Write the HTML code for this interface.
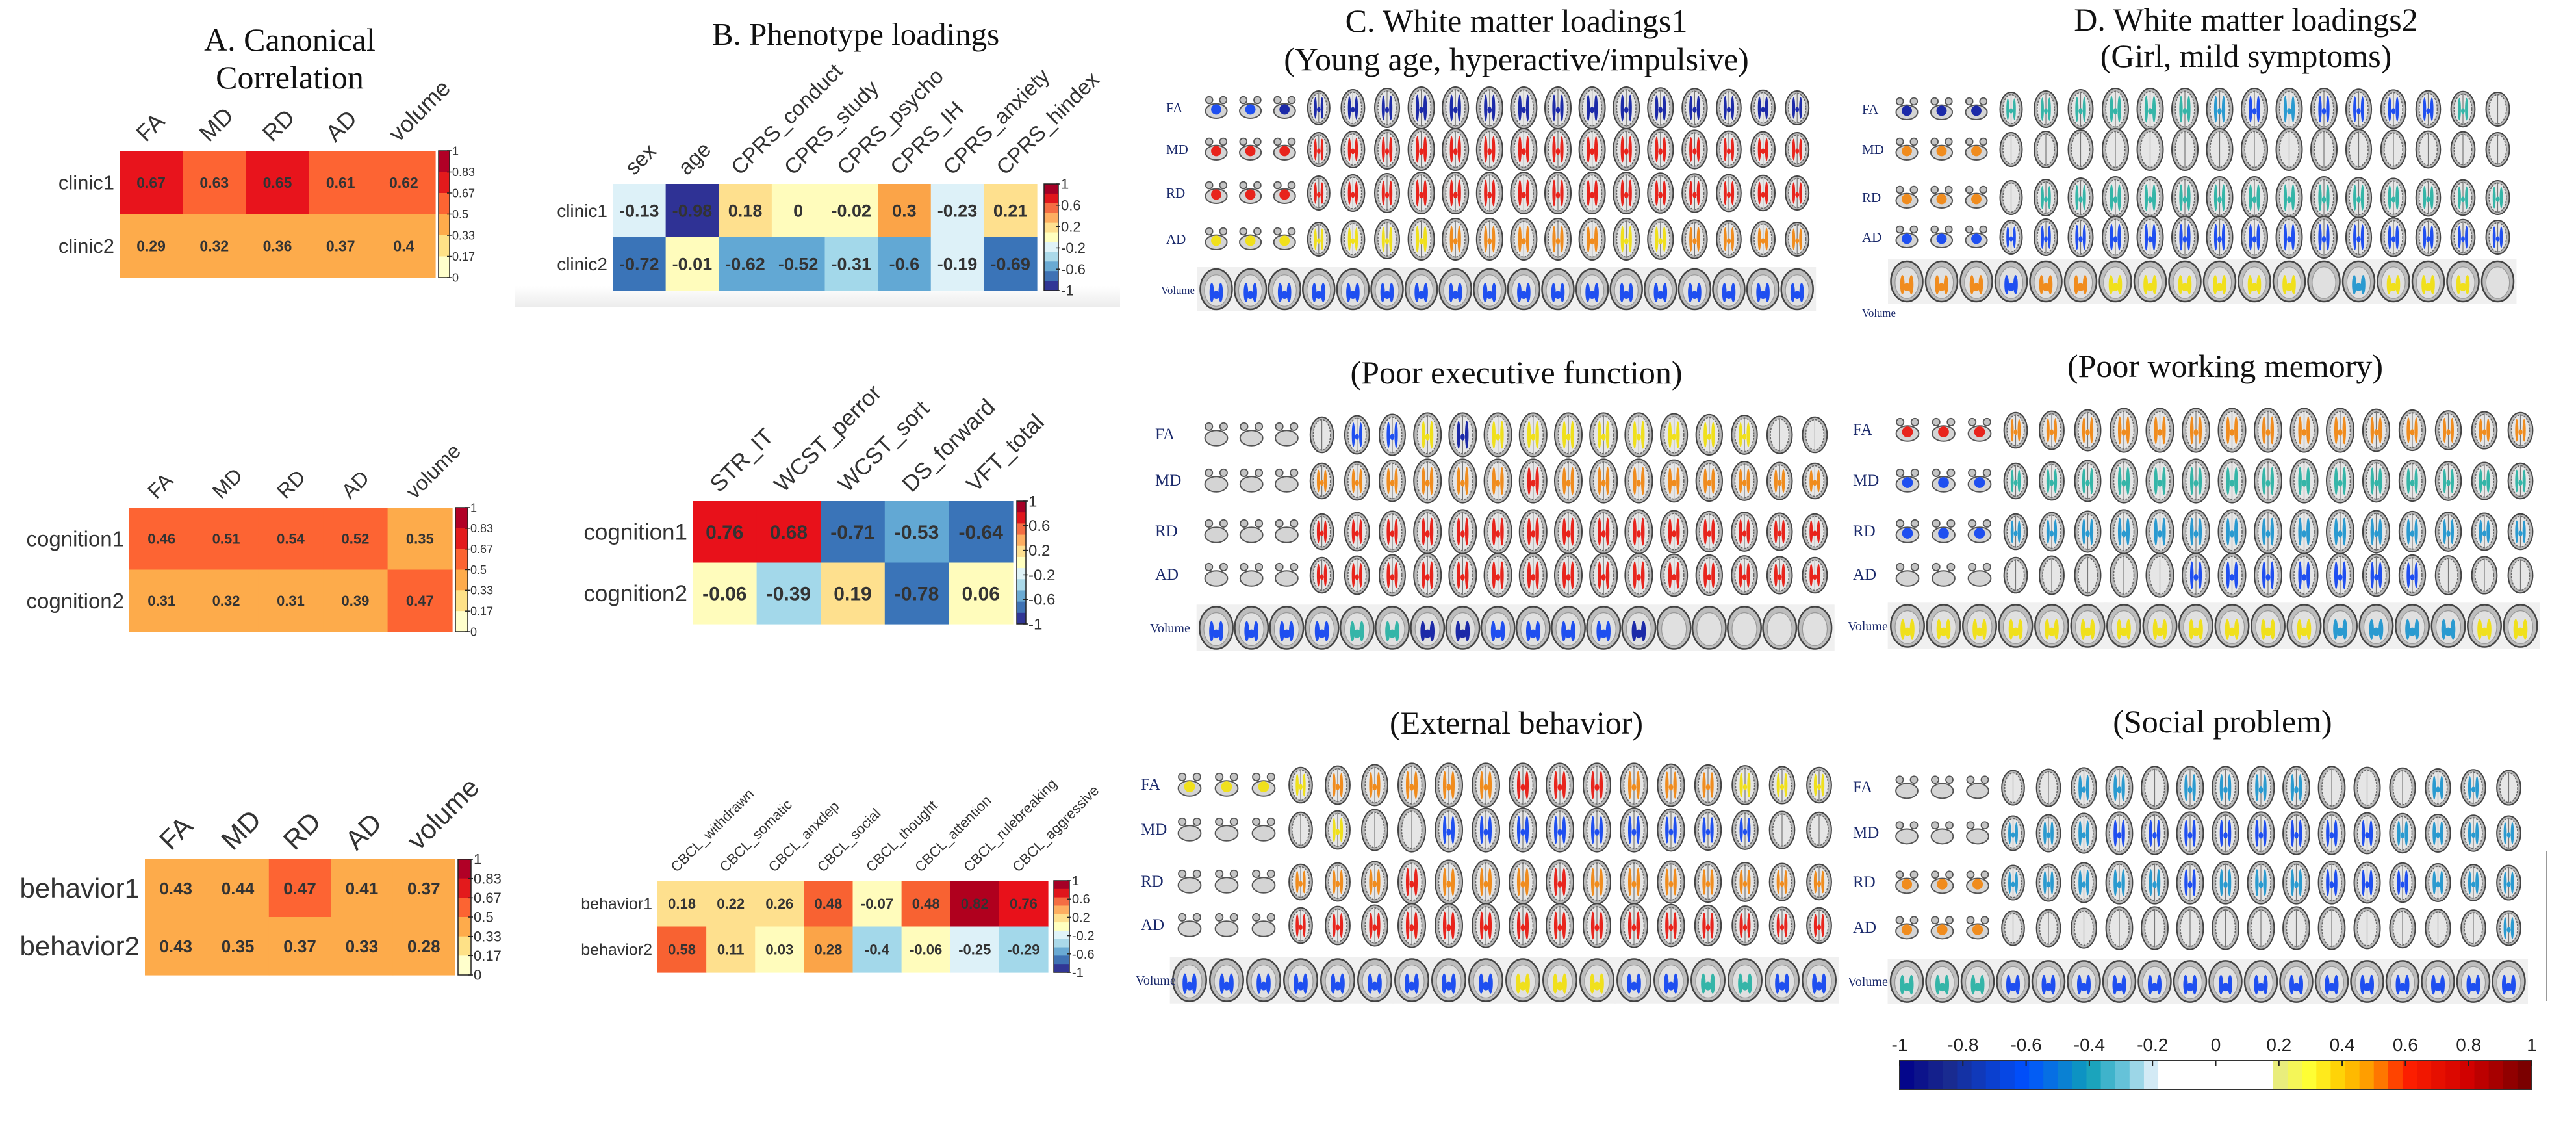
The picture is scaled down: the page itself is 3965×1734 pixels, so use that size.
<!DOCTYPE html>
<html><head><meta charset="utf-8"><style>
html,body{margin:0;padding:0;background:#fff;}
svg{display:block;}
</style></head><body>
<svg id="fig" width="3965" height="1734" viewBox="0 0 3965 1734" xmlns="http://www.w3.org/2000/svg">
<defs><linearGradient id="shadowGrad" x1="0" y1="0" x2="0" y2="1"><stop offset="0" stop-color="#ffffff"/><stop offset="1" stop-color="#ececec"/></linearGradient></defs>
<rect x="0" y="0" width="3965" height="1734" fill="#ffffff"/>
<rect x="792" y="440" width="932" height="32" fill="url(#shadowGrad)"/>
<g font-family="'Liberation Serif', serif" fill="#111" text-anchor="middle">
<text x="446" y="78" font-size="50">A. Canonical</text>
<text x="446" y="136" font-size="50">Correlation</text>
<text x="1317" y="69" font-size="49">B. Phenotype loadings</text>
<text x="2334" y="49" font-size="50">C. White matter loadings1</text>
<text x="2334" y="108" font-size="50">(Young age, hyperactive/impulsive)</text>
<text x="3457" y="47" font-size="50">D. White matter loadings2</text>
<text x="3457" y="103" font-size="50">(Girl, mild symptoms)</text>
<text x="2334" y="590" font-size="50">(Poor executive function)</text>
<text x="3425" y="580" font-size="50">(Poor working memory)</text>
<text x="2334" y="1129" font-size="50">(External behavior)</text>
<text x="3421" y="1127" font-size="50">(Social problem)</text>
</g>
<line x1="3920" y1="1310" x2="3920" y2="1540" stroke="#999" stroke-width="2"/>
<g id="charts"></g>
<g id="brains"></g>
<g id="wmcb"></g>
</svg>
<script>
const NS='http://www.w3.org/2000/svg';
function mk(tag,attrs,parent){const e=document.createElementNS(NS,tag);for(const k in attrs)e.setAttribute(k,attrs[k]);parent.appendChild(e);return e;}

// ---------- heatmap data ----------
const aCols=['FA','MD','RD','AD','volume'];
const clinicRows=['clinic1','clinic2'];
const aClinicVals=[[0.67,0.63,0.65,0.61,0.62],[0.29,0.32,0.36,0.37,0.4]];
const cognitionRows=['cognition1','cognition2'];
const aCognitionVals=[[0.46,0.51,0.54,0.52,0.35],[0.31,0.32,0.31,0.39,0.47]];
const behaviorRows=['behavior1','behavior2'];
const aBehaviorVals=[[0.43,0.44,0.47,0.41,0.37],[0.43,0.35,0.37,0.33,0.28]];
const bClinicCols=['sex','age','CPRS_conduct','CPRS_study','CPRS_psycho','CPRS_IH','CPRS_anxiety','CPRS_hindex'];
const bClinicVals=[[-0.13,-0.98,0.18,0,-0.02,0.3,-0.23,0.21],[-0.72,-0.01,-0.62,-0.52,-0.31,-0.6,-0.19,-0.69]];
const bCognitionCols=['STR_IT','WCST_perror','WCST_sort','DS_forward','VFT_total'];
const bCognitionVals=[[0.76,0.68,-0.71,-0.53,-0.64],[-0.06,-0.39,0.19,-0.78,0.06]];
const bBehaviorCols=['CBCL_withdrawn','CBCL_somatic','CBCL_anxdep','CBCL_social','CBCL_thought','CBCL_attention','CBCL_rulebreaking','CBCL_aggressive'];
const bBehaviorVals=[[0.18,0.22,0.26,0.48,-0.07,0.48,0.82,0.76],[0.58,0.11,0.03,0.28,-0.4,-0.06,-0.25,-0.29]];
const aTicks=['1','0.83','0.67','0.5','0.33','0.17','0'];
const bTicks=['1','0.6','0.2','-0.2','-0.6','-1'];
const aBarColors=['#b10026','#e31a1c','#fc6432','#feab4b','#fee187','#ffffcc'];
const bBarColors=['#a50026','#e0161c','#f46d43','#fdae61','#fee090','#ffffbf','#e0f3f8','#abd9e9','#6aaad3','#3f72b4','#313695'];

function colA(v){
  if(v>=0.8)return '#b10026'; if(v>=0.64)return '#e8141c'; if(v>=0.45)return '#fd6433';
  if(v>=0.27)return '#fdab4b'; if(v>=0.17)return '#fee187'; return '#ffffcc';
}
function colB(v){
  if(v>0.8)return '#b0001e'; if(v>0.6)return '#e8111a'; if(v>0.4)return '#f86232';
  if(v>0.27)return '#fba448'; if(v>0.1)return '#fee08e'; if(v>-0.1)return '#fffcbc';
  if(v>-0.28)return '#ddf1f8'; if(v>-0.45)return '#a3d8ea'; if(v>-0.63)return '#62a8d4';
  if(v>-0.9)return '#3a74b8'; return '#2f3295';
}

const charts=document.getElementById('charts');
function heatmap(name,rows,cols,vals,g){
  const grp=mk('g',{},charts);
  
  
  const nR=rows.length,nC=cols.length;
  const cw=(g.x1-g.x0)/nC, rh=(g.y1-g.y0)/nR;
  const xAt=j=>g.x0+j*cw, yAt=i=>g.y0+i*rh;
  for(let i=0;i<nR;i++){
    for(let j=0;j<nC;j++){
      const c=mk('rect',{x:xAt(j),y:yAt(i),width:cw+0.6,height:rh+0.6,fill:g.cf(vals[i][j])},grp);
      
      
      const t=mk('text',{x:xAt(j)+cw/2,y:yAt(i)+rh/2+g.vf*0.36,'font-size':g.vf,'font-weight':'bold','text-anchor':'middle',fill:'#333','font-family':"'Liberation Sans', sans-serif"},grp);
      t.textContent=String(vals[i][j]);
      
      
    }
    const rl=mk('text',{x:g.x0-8,y:yAt(i)+rh/2+g.rf*0.35,'font-size':g.rf,'text-anchor':'end',fill:'#333','font-family':"'Liberation Sans', sans-serif"},grp);
    rl.textContent=rows[i];
    
    
  }
  for(let j=0;j<nC;j++){
    const lx=xAt(j)+cw/2-8, ly=g.y0-12;
    const cl=mk('text',{x:lx,y:ly,'font-size':g.cfs,'text-anchor':'start',fill:'#333','font-family':"'Liberation Sans', sans-serif",transform:'rotate(-45 '+lx+' '+ly+')'},grp);
    cl.textContent=cols[j];
    
    
  }
  const nb=g.bar.length, bh=(g.y1-g.y0)/nb;
  for(let k=0;k<nb;k++){
    const b=mk('rect',{x:g.cb0,y:g.y0+k*bh,width:g.cb1-g.cb0,height:bh+0.5,fill:g.bar[k]},grp);
    
    
  }
  const ol=mk('rect',{x:g.cb0,y:g.y0,width:g.cb1-g.cb0,height:g.y1-g.y0,fill:'none',stroke:'#222','stroke-width':1.5},grp);
  
  
  const nt=g.ticks.length;
  for(let k=0;k<nt;k++){
    const ty=g.y0+k*(g.y1-g.y0)/(nt-1);
    mk('line',{x1:g.cb1-4,x2:g.cb1+3,y1:ty,y2:ty,stroke:'#222','stroke-width':1.5},grp);
    const tl=mk('text',{x:g.cb1+4,y:ty+g.tf*0.35,'font-size':g.tf,fill:'#333','font-family':"'Liberation Sans', sans-serif"},grp);
    tl.textContent=g.ticks[k];
    
    
  }
}
heatmap('heatmap-a-clinic',clinicRows,aCols,aClinicVals,{x0:184,x1:670,y0:232,y1:427,cb0:675,cb1:692,cf:colA,bar:aBarColors,ticks:aTicks,vf:23,rf:31,cfs:36,tf:18});
heatmap('heatmap-a-cognition',cognitionRows,aCols,aCognitionVals,{x0:199,x1:696,y0:781,y1:972,cb0:701,cb1:720,cf:colA,bar:aBarColors,ticks:aTicks,vf:22,rf:33,cfs:32,tf:18});
heatmap('heatmap-a-behavior',behaviorRows,aCols,aBehaviorVals,{x0:223,x1:700,y0:1322,y1:1500,cb0:705,cb1:725,cf:colA,bar:aBarColors,ticks:aTicks,vf:26,rf:42,cfs:42,tf:22});
heatmap('heatmap-b-clinic',clinicRows,bClinicCols,bClinicVals,{x0:943,x1:1596,y0:283,y1:447,cb0:1607,cb1:1629,cf:colB,bar:bBarColors,ticks:bTicks,vf:27,rf:28,cfs:33,tf:22});
heatmap('heatmap-b-cognition',cognitionRows,bCognitionCols,bCognitionVals,{x0:1066,x1:1559,y0:771,y1:960,cb0:1565,cb1:1579,cf:colB,bar:bBarColors,ticks:bTicks,vf:30,rf:35,cfs:35,tf:24});
heatmap('heatmap-b-behavior',behaviorRows,bBehaviorCols,bBehaviorVals,{x0:1012,x1:1613,y0:1355,y1:1496,cb0:1622,cb1:1646,cf:colB,bar:bBarColors,ticks:bTicks,vf:22,rf:25,cfs:22,tf:20});

// ---------- brain slice panels ----------
const brainColors={b:'#1c2aa8',B:'#1f4ff0',r:'#e8241c',o:'#f08c1e',y:'#f0e01c',t:'#35b5a8',c:'#2a9ad0'};
const rowNames=['FA','MD','RD','AD','Volume'];
const panelC1=['BBbbbbbbbbbbbbbbbb','rrrrrrrrrrrrrrrrrr','rrrrrrrrrrrrrrrrrr','yyyyyyyoooooyyoooo','BBBBBBBBBBBBBBBBBB'];
const panelD1=['bbbttttttcBcBBBBtn','ooonnnnnnnnnnnnnnn','ooonttttttttttttttt','BBBBBBBBBBBBBBBBBB','oooBooyyyyyyncyyyn'];
const panelC2=['nnnnBBybyyyyyyyynn','nnnooooooroooooooo','nnnrrrrrrrrrrrrrrr','nnnrrrrrrrrrrrrrrr','BBBBttbbBBBBbnnnnn'];
const panelD2=['rrrooooooooooooooo','BBBttttttttttttttt','BBBccccccccccccccc','nnnnnnnnBBBBBBBnnn','yyyyyyyyyyyyccccyy'];
const panelC3=['yyyyooooorrroooyyy','nnnnynnBBBBBBBBBnn','nnnooorooorooooooo','nnnrrrrrrrrrrrrrrr','BBBBBBBBByyyBBttBB'];
const panelD3=['nnnnnccnccccnnnccn','nnncccBBBBBBBBcccc','ooocccccBcccBBBccc','ooonnnnnnnnnnnnnnc','tttBBBBBBBBBBBBBBB'];

const brainsG=document.getElementById('brains');
function drawBrain(g,cx,cy,idx,s,ch,vol){
  const col=brainColors[ch]||null;
  if(vol){
    const w=49*s,h=62*s;
    mk('ellipse',{cx:cx,cy:cy,rx:w/2,ry:h/2,fill:'#bdbdbd',stroke:'#444','stroke-width':2.5},g);
    mk('ellipse',{cx:cx,cy:cy+2,rx:w*0.37,ry:h*0.39,fill:'#e0e0e0',stroke:'#999','stroke-width':1.2},g);
    if(col){
      mk('ellipse',{cx:cx-w*0.14,cy:cy+h*0.08,rx:w*0.07,ry:h*0.24,fill:col},g);
      mk('ellipse',{cx:cx+w*0.14,cy:cy+h*0.08,rx:w*0.07,ry:h*0.24,fill:col},g);
      mk('ellipse',{cx:cx,cy:cy+h*0.14,rx:w*0.11,ry:h*0.1,fill:col},g);
    }
    return;
  }
  if(idx<3){
    const w=36*s,h=40*s;
    mk('circle',{cx:cx-w*0.3,cy:cy-h*0.3,r:w*0.15,fill:'#c4c4c4',stroke:'#555','stroke-width':1.8},g);
    mk('circle',{cx:cx+w*0.3,cy:cy-h*0.3,r:w*0.15,fill:'#c4c4c4',stroke:'#555','stroke-width':1.8},g);
    mk('ellipse',{cx:cx,cy:cy+h*0.12,rx:w*0.46,ry:h*0.28,fill:'#d4d4d4',stroke:'#555','stroke-width':2},g);
    if(col) mk('ellipse',{cx:cx,cy:cy+h*0.06,rx:w*0.22,ry:h*0.2,fill:col},g);
    return;
  }
  const h=(idx<6?52+(idx-3)*4:(idx<13?64:64-(idx-12)*2.4))*s;
  const w=(idx<6?34+(idx-3)*2:40-Math.max(0,idx-12)*0.8)*s;
  mk('ellipse',{cx:cx,cy:cy,rx:w/2,ry:h/2,fill:'#b8b8b8',stroke:'#444','stroke-width':2},g);
  mk('ellipse',{cx:cx,cy:cy,rx:w*0.37,ry:h*0.43,fill:'#e6e6e6',stroke:'#666','stroke-width':1.6,'stroke-dasharray':'3 2'},g);
  mk('line',{x1:cx,y1:cy-h*0.45,x2:cx,y2:cy+h*0.45,stroke:'#777','stroke-width':1.2},g);
  if(col){
    mk('ellipse',{cx:cx-w*0.15,cy:cy,rx:w*0.065,ry:h*0.32,fill:col},g);
    mk('ellipse',{cx:cx+w*0.15,cy:cy,rx:w*0.065,ry:h*0.32,fill:col},g);
    mk('ellipse',{cx:cx,cy:cy+h*0.05,rx:w*0.08,ry:h*0.08,fill:col},g);
  }
}
function brainPanel(name,rows,cfg){
  const pg=mk('g',{},brainsG);
  
  
  for(let r=0;r<5;r++){
    const rg=mk('g',{},pg);
    
    
    const str=rows[r];
    if(r===4){
      for(let k=0;k<3;k++){
        const a=cfg.x0+k*6*cfg.dx-26*cfg.s, bgW=5*cfg.dx+52*cfg.s;
        mk('rect',{x:a-3,y:cfg.ys[r]-34*cfg.s,width:bgW+6,height:68*cfg.s,fill:'#f0f0f0'},rg);
      }
    }
    for(let i=0;i<18;i++){
      const bg=mk('g',{},rg);
      
      
      drawBrain(bg,cfg.x0+i*cfg.dx,cfg.ys[r],i,cfg.s,str[i],r===4);
    }
    const ly=(r===4&&cfg.volLabelY)?cfg.volLabelY:cfg.ys[r]+7;
    const lx=(r===4&&!cfg.volLabelY)?cfg.lx-8:cfg.lx;
    const lt=mk('text',{x:lx,y:ly,'font-size':(r===4?cfg.lf*0.8:cfg.lf),fill:'#1b2a6b','font-family':"'Liberation Serif', serif"},rg);
    lt.textContent=rowNames[r];
    
    
  }
}
brainPanel('panel-c-young-age',panelC1,{lx:1795,lf:21,x0:1872,dx:52.6,s:1,ys:[166,230,297,368,445]});
brainPanel('panel-d-girl-mild',panelD1,{lx:2866,lf:21,x0:2935,dx:53.5,s:1,ys:[168,230,304,365,433],volLabelY:487});
brainPanel('panel-c-executive',panelC2,{lx:1778,lf:25,x0:1872,dx:54.2,s:1.05,ys:[669,740,818,885,966]});
brainPanel('panel-d-working-memory',panelD2,{lx:2852,lf:25,x0:2936,dx:55.5,s:1.05,ys:[662,740,818,885,963]});
brainPanel('panel-c-external',panelC3,{lx:1756,lf:25,x0:1831,dx:57,s:1.05,ys:[1208,1277,1357,1424,1508]});
brainPanel('panel-d-social',panelD3,{lx:2852,lf:25,x0:2935,dx:54.5,s:1.02,ys:[1212,1282,1358,1428,1510]});

// ---------- white-matter colorbar ----------
const wmTicks=[-1,-0.8,-0.6,-0.4,-0.2,0,0.2,0.4,0.6,0.8,1];
const wmStops=[[-1,'#00008b'],[-0.85,'#1a2a8c'],[-0.6,'#0050ff'],[-0.4,'#10a0b8'],[-0.3,'#60c0d8'],[-0.2,'#d8ecf6'],[-0.19,'#ffffff'],[0.19,'#ffffff'],[0.2,'#e8ec80'],[0.3,'#ffff30'],[0.4,'#ffcc00'],[0.5,'#ff9000'],[0.6,'#ff2000'],[0.8,'#d00000'],[1,'#700000']];
function hex2(c){return [parseInt(c.substr(1,2),16),parseInt(c.substr(3,2),16),parseInt(c.substr(5,2),16)];}
function wmColor(v){
  for(let i=0;i<wmStops.length-1;i++){
    const a=wmStops[i],b=wmStops[i+1];
    if(v>=a[0]&&v<=b[0]){const t=(v-a[0])/(b[0]-a[0]);const A=hex2(a[1]),B=hex2(b[1]);
      return 'rgb('+A.map((x,k)=>Math.round(x+(B[k]-x)*t)).join(',')+')';}
  }
  return wmStops[wmStops.length-1][1];
}
const wm=document.getElementById('wmcb');
const cbx0=2924,cbx1=3897,cby0=1632,cby1=1676;
const wmX=v=>cbx0+(v+1)/2*(cbx1-cbx0);
const nBands=44;
for(let k=0;k<nBands;k++){
  const v0=-1+2*k/nBands, v1=-1+2*(k+1)/nBands;
  const r=mk('rect',{x:wmX(v0),y:cby0,width:wmX(v1)-wmX(v0)+0.6,height:cby1-cby0,fill:wmColor((v0+v1)/2)},wm);
  
  
}
const wmo=mk('rect',{x:cbx0,y:cby0,width:cbx1-cbx0,height:cby1-cby0,fill:'none',stroke:'#333','stroke-width':2},wm);


wmTicks.forEach(v=>{
  mk('line',{x1:wmX(v),x2:wmX(v),y1:cby0,y2:cby0+8,stroke:'#222','stroke-width':2},wm);
  const t=mk('text',{x:wmX(v),y:1617,'font-size':28,'text-anchor':'middle',fill:'#222','font-family':"'Liberation Sans', sans-serif"},wm);
  t.textContent=String(v);
  
  
});
</script>
</body></html>
